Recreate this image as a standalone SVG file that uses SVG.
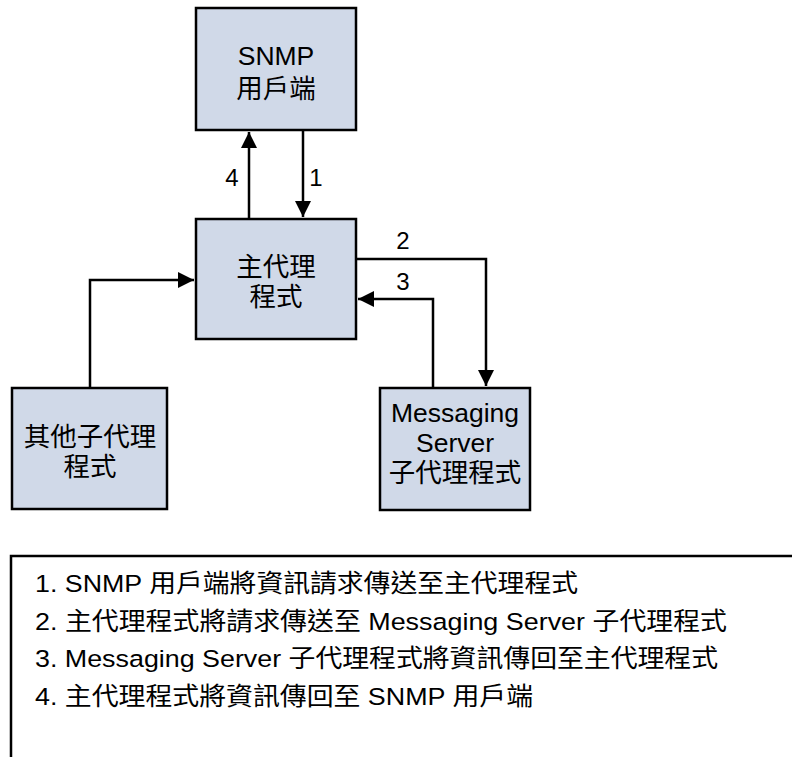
<svg xmlns="http://www.w3.org/2000/svg" width="792" height="757" viewBox="0 0 792 757">
<defs>
<style>
.box{fill:#d0d9e8;stroke:#000;stroke-width:2.5}
.t{font-family:"Liberation Sans","Noto Sans CJK TC",sans-serif;font-size:26.5px;fill:#000;text-anchor:middle}
.n{font-family:"Liberation Sans",sans-serif;font-size:24px;fill:#000;text-anchor:middle}
.l{font-family:"Liberation Sans","Noto Sans CJK TC",sans-serif;font-size:24.5px;fill:#000}
.c{fill:none;stroke:#000;stroke-width:2.5}
</style>
<marker id="ah" viewBox="0 0 10 10" refX="10" refY="5" markerWidth="6.4" markerHeight="6.4" markerUnits="strokeWidth" orient="auto">
<path d="M0,0 L10,5 L0,10 z" fill="#000"/>
</marker>
</defs>
<rect x="0" y="0" width="792" height="757" fill="#fff"/>
<g id="connectors">
<line class="c" x1="249" y1="219" x2="249" y2="132" marker-end="url(#ah)"/>
<line class="c" x1="303" y1="130" x2="303" y2="217" marker-end="url(#ah)"/>
<polyline class="c" points="356,259 486,259 486,386" marker-end="url(#ah)"/>
<polyline class="c" points="433,388 433,299 358,299" marker-end="url(#ah)"/>
<polyline class="c" points="90,388 90,280 194,280" marker-end="url(#ah)"/>
<text class="n" x="232" y="186">4</text>
<text class="n" x="316" y="186">1</text>
<text class="n" x="403" y="249">2</text>
<text class="n" x="403" y="290">3</text>
</g>
<g id="snmp">
<rect class="box" x="196" y="8" width="160" height="122"/>
<text class="t" x="276" y="65">SNMP</text>
<text class="t" x="276" y="98">用戶端</text>
</g>
<g id="master">
<rect class="box" x="196" y="219" width="160" height="120"/>
<text class="t" x="276" y="276">主代理</text>
<text class="t" x="276" y="306">程式</text>
</g>
<g id="other">
<rect class="box" x="12" y="388" width="155" height="121"/>
<text class="t" x="90" y="446">其他子代理</text>
<text class="t" x="90" y="476">程式</text>
</g>
<g id="messaging">
<rect class="box" x="380" y="388" width="150" height="122"/>
<text class="t" x="455" y="422">Messaging</text>
<text class="t" x="455" y="452">Server</text>
<text class="t" x="455" y="482">子代理程式</text>
</g>
<g id="legend">
<polyline class="c" points="11,757 11,556 792,556"/>
<text class="l" x="35" y="592" textLength="543" lengthAdjust="spacingAndGlyphs">1. SNMP 用戶端將資訊請求傳送至主代理程式</text>
<text class="l" x="35" y="630" textLength="692" lengthAdjust="spacingAndGlyphs">2. 主代理程式將請求傳送至 Messaging Server 子代理程式</text>
<text class="l" x="35" y="667" textLength="683" lengthAdjust="spacingAndGlyphs">3. Messaging Server 子代理程式將資訊傳回至主代理程式</text>
<text class="l" x="35" y="705" textLength="498" lengthAdjust="spacingAndGlyphs">4. 主代理程式將資訊傳回至 SNMP 用戶端</text>
</g>
</svg>
